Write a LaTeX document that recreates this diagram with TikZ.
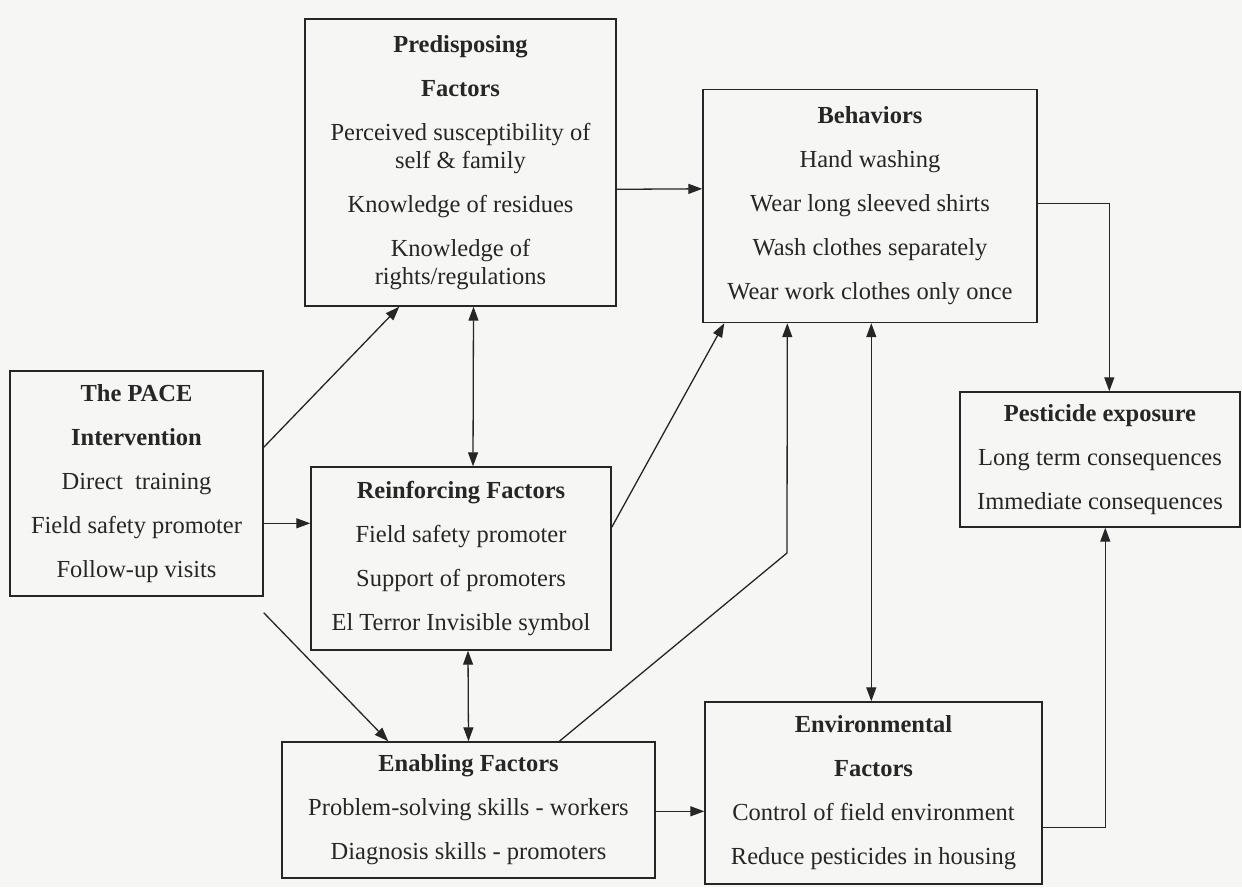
\documentclass[tikz,border=0pt]{standalone}
\usepackage{fontspec}
\setmainfont{Liberation Serif}
\usetikzlibrary{arrows.meta,calc}
\definecolor{ink}{RGB}{38,38,38}
\definecolor{paper}{RGB}{246,246,244}
\tikzset{
  box/.style={draw=ink, line width=1.4pt, inner sep=0pt, align=center, text=ink,
    font=\fontsize{24.5}{44}\selectfont},
  conn/.style={draw=ink, line width=1.3pt, -{Triangle[length=14pt,width=10pt]}},
  twoway/.style={draw=ink, line width=1.3pt, {Triangle[length=14pt,width=10pt]}-{Triangle[length=14pt,width=10pt]}},
}
\begin{document}
\begin{tikzpicture}[x=1pt,y=-1pt]
\useasboundingbox (0,0) rectangle (1242,887);
\fill[paper] (0,0) rectangle (1242,887);

\node[box, minimum width=311pt, minimum height=287pt] (pred) at (460.5,162.5)
  {\textbf{Predisposing}\\ \textbf{Factors}\\ Perceived susceptibility of\\[-16pt] self \& family\\
   Knowledge of residues\\ Knowledge of\\[-16pt] rights/regulations};
\node[box, minimum width=334pt, minimum height=233pt] (beh) at (870,206)
  {\textbf{Behaviors}\\ Hand washing\\ Wear long sleeved shirts\\ Wash clothes separately\\ Wear work clothes only once};
\node[box, minimum width=253pt, minimum height=225pt] (pace) at (136.5,483.5)
  {\textbf{The PACE}\\ \textbf{Intervention}\\ Direct\ \ training\\ Field safety promoter\\ Follow-up visits};
\node[box, minimum width=300pt, minimum height=183pt] (reinf) at (461,558.5)
  {\textbf{Reinforcing Factors}\\ Field safety promoter\\ Support of promoters\\ El Terror Invisible symbol};
\node[box, minimum width=373pt, minimum height=136pt] (enab) at (468.5,810)
  {\textbf{Enabling Factors}\\ Problem-solving skills - workers\\ Diagnosis skills - promoters};
\node[box, minimum width=337pt, minimum height=182pt] (env) at (873.5,793)
  {\textbf{Environmental}\\ \textbf{Factors}\\ Control of field environment\\ Reduce pesticides in housing};
\node[box, minimum width=280pt, minimum height=135pt] (pest) at (1100,459.5)
  {\textbf{Pesticide exposure}\\ Long term consequences\\ Immediate consequences};

% PACE intervention outputs
\draw[conn] ($(pace.north east)+(0,77)$) -- ($(pred.south west)+(95,0)$);
\draw[conn] ($(pace.north east)+(0,153)$) -- ($(reinf.north west)+(0,57)$);
\draw[conn] ($(pace.south east)+(0,16)$) -- ($(enab.north west)+(107,0)$);

% links between factors
\draw[twoway] ($(pred.south)+(13,0)$) -- ($(reinf.north)+(12,0)$);
\draw[twoway] ($(reinf.south)+(7,0)$) -- (enab.north);

% factors to behaviors
\draw[conn] ($(pred.north east)+(0,171)$) -- ($(beh.north west)+(0,100)$);
\draw[conn] ($(reinf.north east)+(0,61)$) -- ($(beh.south west)+(22,0)$);
\coordinate (bend) at (787,553);
\draw[conn] ($(enab.north west)+(278,0)$) -- (bend) -- ($(beh.south west)+(85,0)$);

% behaviors and environment
\draw[twoway] ($(beh.south west)+(169,0)$) -- ($(env.north west)+(167,0)$);
\draw[conn] ($(enab.north east)+(0,70)$) -- ($(env.north west)+(0,110)$);

% to pesticide exposure
\draw[conn] ($(beh.north east)+(0,115)$) -| ($(pest.north west)+(150,0)$);
\draw[conn] ($(env.north east)+(0,126)$) -| ($(pest.south west)+(146,0)$);
\end{tikzpicture}
\end{document}
